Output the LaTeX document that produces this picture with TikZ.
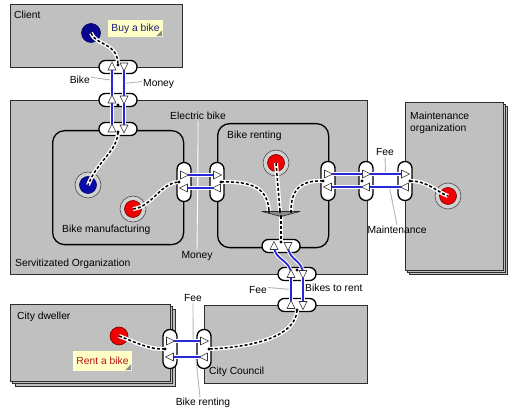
\documentclass[tikz,border=0pt]{standalone}
\usepackage{fontspec}
\setmainfont{Liberation Sans}
\usetikzlibrary{calc}
\definecolor{boxgray}{HTML}{C0C0C0}
\definecolor{edge}{HTML}{2E2E2E}
\definecolor{flowblue}{HTML}{2828D8}
\definecolor{notebg}{HTML}{FFFFC8}
\definecolor{navytext}{HTML}{1C1C78}
\definecolor{redtext}{HTML}{B41414}
\definecolor{leadergray}{HTML}{B4B4B4}
\definecolor{ringgray}{HTML}{D2D2D2}
\definecolor{evblue}{HTML}{0A0AA8}
\definecolor{evred}{HTML}{F00000}
\definecolor{foldgray}{HTML}{8C8C8C}

\begin{document}
\begin{tikzpicture}[x=1pt, y=-1pt,
  font=\fontsize{10.3}{12.5}\selectfont,
  area/.style={draw=edge, line width=1.3pt, fill=boxgray, anchor=north west, inner sep=0},
  areaback/.style={draw=edge, line width=0.9pt, fill=boxgray},
  lane/.style={draw=black, line width=1.3pt, fill=boxgray, rounded corners=12pt, anchor=north west, inner sep=0},
  hport/.style={draw=black, line width=1.3pt, fill=white, rounded corners=6.3pt, minimum width=38pt, minimum height=13pt, inner sep=0},
  vport/.style={draw=black, line width=1.3pt, fill=white, rounded corners=6.8pt, minimum width=14pt, minimum height=39pt, inner sep=0},
  evring/.style={circle, draw=black!70, line width=0.6pt, fill=ringgray, minimum size=26pt, inner sep=0},
  evb/.style={circle, draw=black!60!blue, line width=0.6pt, fill=evblue, minimum size=17pt, inner sep=0},
  evr/.style={circle, draw=red!45!black, line width=0.6pt, fill=evred, minimum size=17pt, inner sep=0},
  note/.style={fill=notebg, inner sep=0},
  lbl/.style={inner sep=0, text=black},
  flow/.style={draw=flowblue, line width=1.8pt, preaction={draw=white, line width=3.8pt}},
  dconn/.style={draw=black, line width=1.5pt, dash pattern=on 3pt off 2pt,
                preaction={draw=white, line width=4pt, solid}},
  leadw/.style={draw=white, line width=0.9pt},
  leadg/.style={draw=leadergray, line width=0.9pt},
  tri/.style={fill=white, draw=black!80, line width=0.6pt, line join=round},
  tup/.pic={\path[tri] (0,-4.5) -- (-4,3.5) -- (4,3.5) -- cycle;},
  tdown/.pic={\path[tri] (0,4.5) -- (-4,-3.5) -- (4,-3.5) -- cycle;},
  tright/.pic={\path[tri] (4.5,0) -- (-3.5,-4) -- (-3.5,4) -- cycle;},
  tleft/.pic={\path[tri] (-4.5,0) -- (3.5,-4) -- (3.5,4) -- cycle;},
  dot/.style={fill=black}
]
\useasboundingbox (0,0) rectangle (509,411);

% ---------- organizations ----------
\node[area, minimum width=172pt, minimum height=63pt] (client) at (10,4) {};
\node[area, minimum width=357pt, minimum height=174pt] (servit) at (10,100) {};
\draw[areaback] (409,106) rectangle (507,274);
\draw[areaback] (407,104) rectangle (505,272);
\node[area, minimum width=98pt, minimum height=168pt] (maint) at (405,102) {};
\draw[areaback] (15,309) rectangle (175,386);
\draw[areaback] (12.5,306.5) rectangle (172.5,383.5);
\node[area, minimum width=160pt, minimum height=77pt] (dweller) at (10,304) {};
\node[area, minimum width=163pt, minimum height=78pt] (council) at (204,305) {};

% ---------- processes inside the organization ----------
\node[lane, minimum width=131pt, minimum height=114pt] (manuf) at (52,130) {};
\node[lane, minimum width=111pt, minimum height=124pt] (renting) at (217,123) {};

% ---------- notes ----------
\node[note, minimum width=55pt, minimum height=17pt, text=navytext] (buy) at (135.5,28.5) {Buy a bike};
\fill[foldgray] ($(buy.south east)+(-1,-1)$) -- ($(buy.south east)+(-7,-1)$) -- ($(buy.south east)+(-1,-7)$) -- cycle;
\node[note, minimum width=59pt, minimum height=20pt, text=redtext] (rent) at (102.5,361) {Rent a bike};
\fill[foldgray] ($(rent.south east)+(-1,-1)$) -- ($(rent.south east)+(-7,-1)$) -- ($(rent.south east)+(-1,-7)$) -- cycle;

% ---------- ports ----------
\node[hport] (p1) at (118,67) {};
\node[hport] (p2) at (118,100) {};
\node[hport] (p3) at (118,129) {};
\node[vport] (p4) at (184,182) {};
\node[vport] (p5) at (217,182) {};
\node[vport] (p6) at (328,181) {};
\node[vport] (p7) at (366,181) {};
\node[vport] (p8) at (405,181) {};
\node[hport] (p9) at (281,246) {};
\node[hport] (p10) at (297,274) {};
\node[hport] (p11) at (297,305) {};
\node[vport] (p12) at (170,349) {};
\node[vport] (p13) at (204,349) {};

% ---------- events ----------
\node[evb, minimum size=19pt, fill=evblue!85!black] (cl) at (91,33) {};
\node[evring] (bmbring) at (88,185) {};
\node[evb] (bmb) at (88,185) {};
\node[evring] (bmrring) at (133,209) {};
\node[evr] (bmr) at (133,209) {};
\node[evring] (brrring) at (276,163) {};
\node[evr] (brr) at (276,163) {};
\node[evring] (mrring) at (448,196) {};
\node[evr] (mr) at (448,196) {};
\node[evr, minimum size=18pt] (cdr) at (119,336) {};

% ---------- join of the renting flows ----------
\coordinate (jl) at (269,211.5);
\coordinate (jm) at (280,211.5);
\coordinate (jr) at (291,211.5);
\coordinate (jb) at (281,216.5);
\draw[fill=black!45, draw=black!85, line width=0.6pt, line join=round] (262,211.5) -- (300,211.5) -- (281,216.5) -- cycle;

% ---------- labels ----------
\node[lbl, anchor=base west] (lclient) at (14,18.5) {Client};
\node[lbl, anchor=base east] (lbike) at (90,84) {Bike};
\node[lbl, anchor=base west] (lmoney) at (143,87) {Money};
\node[lbl, anchor=base] (lelec) at (198,120) {Electric bike};
\node[lbl, anchor=base] (lmoney2) at (197,258.5) {Money};
\node[lbl, anchor=base west] (lrenting) at (227,139) {Bike renting};
\node[lbl, anchor=base west] (lmanuf) at (62,233) {Bike manufacturing};
\node[lbl, anchor=base west] (lservit) at (15,267) {Servitizated Organization};
\node[lbl, anchor=base west] (lmaint1) at (410,119.5) {Maintenance};
\node[lbl, anchor=base west] (lmaint2) at (410,131.5) {organization};
\node[lbl, anchor=base] (lfee1) at (385,155.5) {Fee};
\node[lbl, anchor=base] (lmaintflow) at (397,233.5) {Maintenance};
\node[lbl, anchor=base east] (lfee2) at (267,294) {Fee};
\node[lbl, anchor=base west] (lbikes) at (305,291.5) {Bikes to rent};
\node[lbl, anchor=base west] (ldweller) at (17,319.5) {City dweller};
\node[lbl, anchor=base west] (lcouncil) at (209,375) {City Council};
\node[lbl, anchor=base] (lfee3) at (193,301.5) {Fee};
\node[lbl, anchor=base] (lbrent) at (203,406) {Bike renting};

% ---------- label leaders ----------
\draw[leadg] (lbike.east) ++(1,-3) -- ($(p1)!0.4!(p2)+(-6,0)$);
\draw[leadg] ($(p1)!0.5!(p2)+(6,0)$) -- ([xshift=-1pt,yshift=3pt]lmoney.west);
\draw[leadw] ([yshift=-1pt]lelec.south) -- ($(p4)!0.42!(p5)+(0,6)$);
\draw[leadw] ([yshift=1pt]lmoney2.north) -- ($(p4)!0.42!(p5)+(0,-7)$);
\draw[leadg] ([yshift=-1pt]lfee1.south) -- ($(p7)!0.5!(p8)+(0,-7)$);
\draw[leadg] ([yshift=1pt]lmaintflow.north) -- ($(p7)!0.6!(p8)+(0,6)$);
\draw[leadg] ([xshift=1pt,yshift=3pt]lfee2.east) -- ($(p10)!0.5!(p11)+(-6,0)$);
\draw[leadg] ([yshift=-1pt]lfee3.south) -- ($(p12)!0.68!(p13)+(0,-8)$);
\draw[leadg] ($(p12)!0.76!(p13)+(0,8)$) -- ([xshift=-3pt,yshift=1pt]lbrent.north);

% ---------- exchanged flows ----------
\draw[flow] ($(p3)+(-6,0)$) -- ($(p1)+(-6,0)$);
\draw[flow] ($(p1)+(6,0)$) -- ($(p3)+(6,0)$);
\draw[flow] ($(p4)+(0,-7)$) -- ($(p5)+(0,-7)$);
\draw[flow] ($(p5)+(0,6)$) -- ($(p4)+(0,6)$);
\draw[flow] ($(p6)+(0,-7)$) -- ($(p8)+(0,-7)$);
\draw[flow] ($(p8)+(0,6)$) -- ($(p6)+(0,6)$);
\draw[flow] ($(p11)+(-6,0)$) -- ($(p10)+(-6,0)$) .. controls ($(p10)+(-6,-14)$) and ($(p9)+(-7,14)$) .. ($(p9)+(-7,0)$);
\draw[flow] ($(p9)+(7,0)$) .. controls ($(p9)+(7,14)$) and ($(p10)+(6,-14)$) .. ($(p10)+(6,0)$) -- ($(p11)+(6,0)$);
\draw[flow] ($(p12)+(0,-8)$) -- ($(p13)+(0,-8)$);
\draw[flow] ($(p13)+(0,8)$) -- ($(p12)+(0,8)$);

% ---------- flow direction marks ----------
\foreach \p in {p1,p2,p3} {
  \pic at ($(\p)+(-6,-0.5)$) {tup};
  \pic at ($(\p)+(6,-0.5)$) {tdown};
}
\pic at ($(p9)+(-7,0)$) {tup};
\pic at ($(p9)+(7,0)$) {tdown};
\pic at ($(p10)+(-6,0)$) {tup};
\pic at ($(p10)+(6,0)$) {tdown};
\pic at ($(p11)+(-6,0)$) {tup};
\pic at ($(p11)+(6,0)$) {tdown};
\foreach \p in {p4,p5,p6,p7,p8} {
  \pic at ($(\p)+(0,-7)$) {tright};
  \pic at ($(\p)+(0,6)$) {tleft};
}
\foreach \p in {p12,p13} {
  \pic at ($(\p)+(0,-8)$) {tright};
  \pic at ($(\p)+(0,8)$) {tleft};
}

% ---------- control flows ----------
\coordinate (d1) at ($(p1)+(0,-2)$);
\coordinate (d3) at ($(p3)+(0,3)$);
\coordinate (d4) at ($(p4)+(-5,0)$);
\coordinate (d5) at ($(p5)+(4,0)$);
\coordinate (d6) at ($(p6)+(-5,0)$);
\coordinate (d8) at ($(p8)+(5,0)$);
\coordinate (d9) at ($(p9)+(0,-4)$);
\coordinate (d11) at ($(p11)+(0,5)$);
\coordinate (d12) at ($(p12)+(-5,0)$);
\coordinate (d13) at ($(p13)+(5,0)$);

\draw[dconn] (cl.center) .. controls (96,46) and (118,42) .. (d1);
\draw[dconn] (d3) .. controls (117,152) and (98,160) .. (bmb.center);
\draw[dconn] (bmr.center) .. controls (152,207) and (160,183) .. (d4);
\draw[dconn] (d5) .. controls (252,181) and (268,188) .. (jl);
\draw[dconn] (brr.center) -- (jm);
\draw[dconn] (d6) .. controls (300,180) and (291,190) .. (jr);
\draw[dconn] (jb) -- (d9);
\draw[dconn] (d8) .. controls (428,181) and (437,192) .. (mr.center);
\draw[dconn] (d11) .. controls (296,336) and (255,347) .. (d13);
\draw[dconn] (cdr.center) .. controls (135,342) and (150,350) .. (d12);

\foreach \d in {d1,d3,d4,d5,d6,d8,d9,d11,d12,d13,jl,jm,jr,jb}
  \fill[dot] (\d) circle (1.6pt);
\fill[dot] ($(p2)+(0,5)$) circle (1.6pt);
\fill[dot] ($(p7)+(-4,0)$) circle (1.6pt);
\fill[dot] ($(p10)+(0,-4)$) circle (1.6pt);
\end{tikzpicture}
\end{document}
